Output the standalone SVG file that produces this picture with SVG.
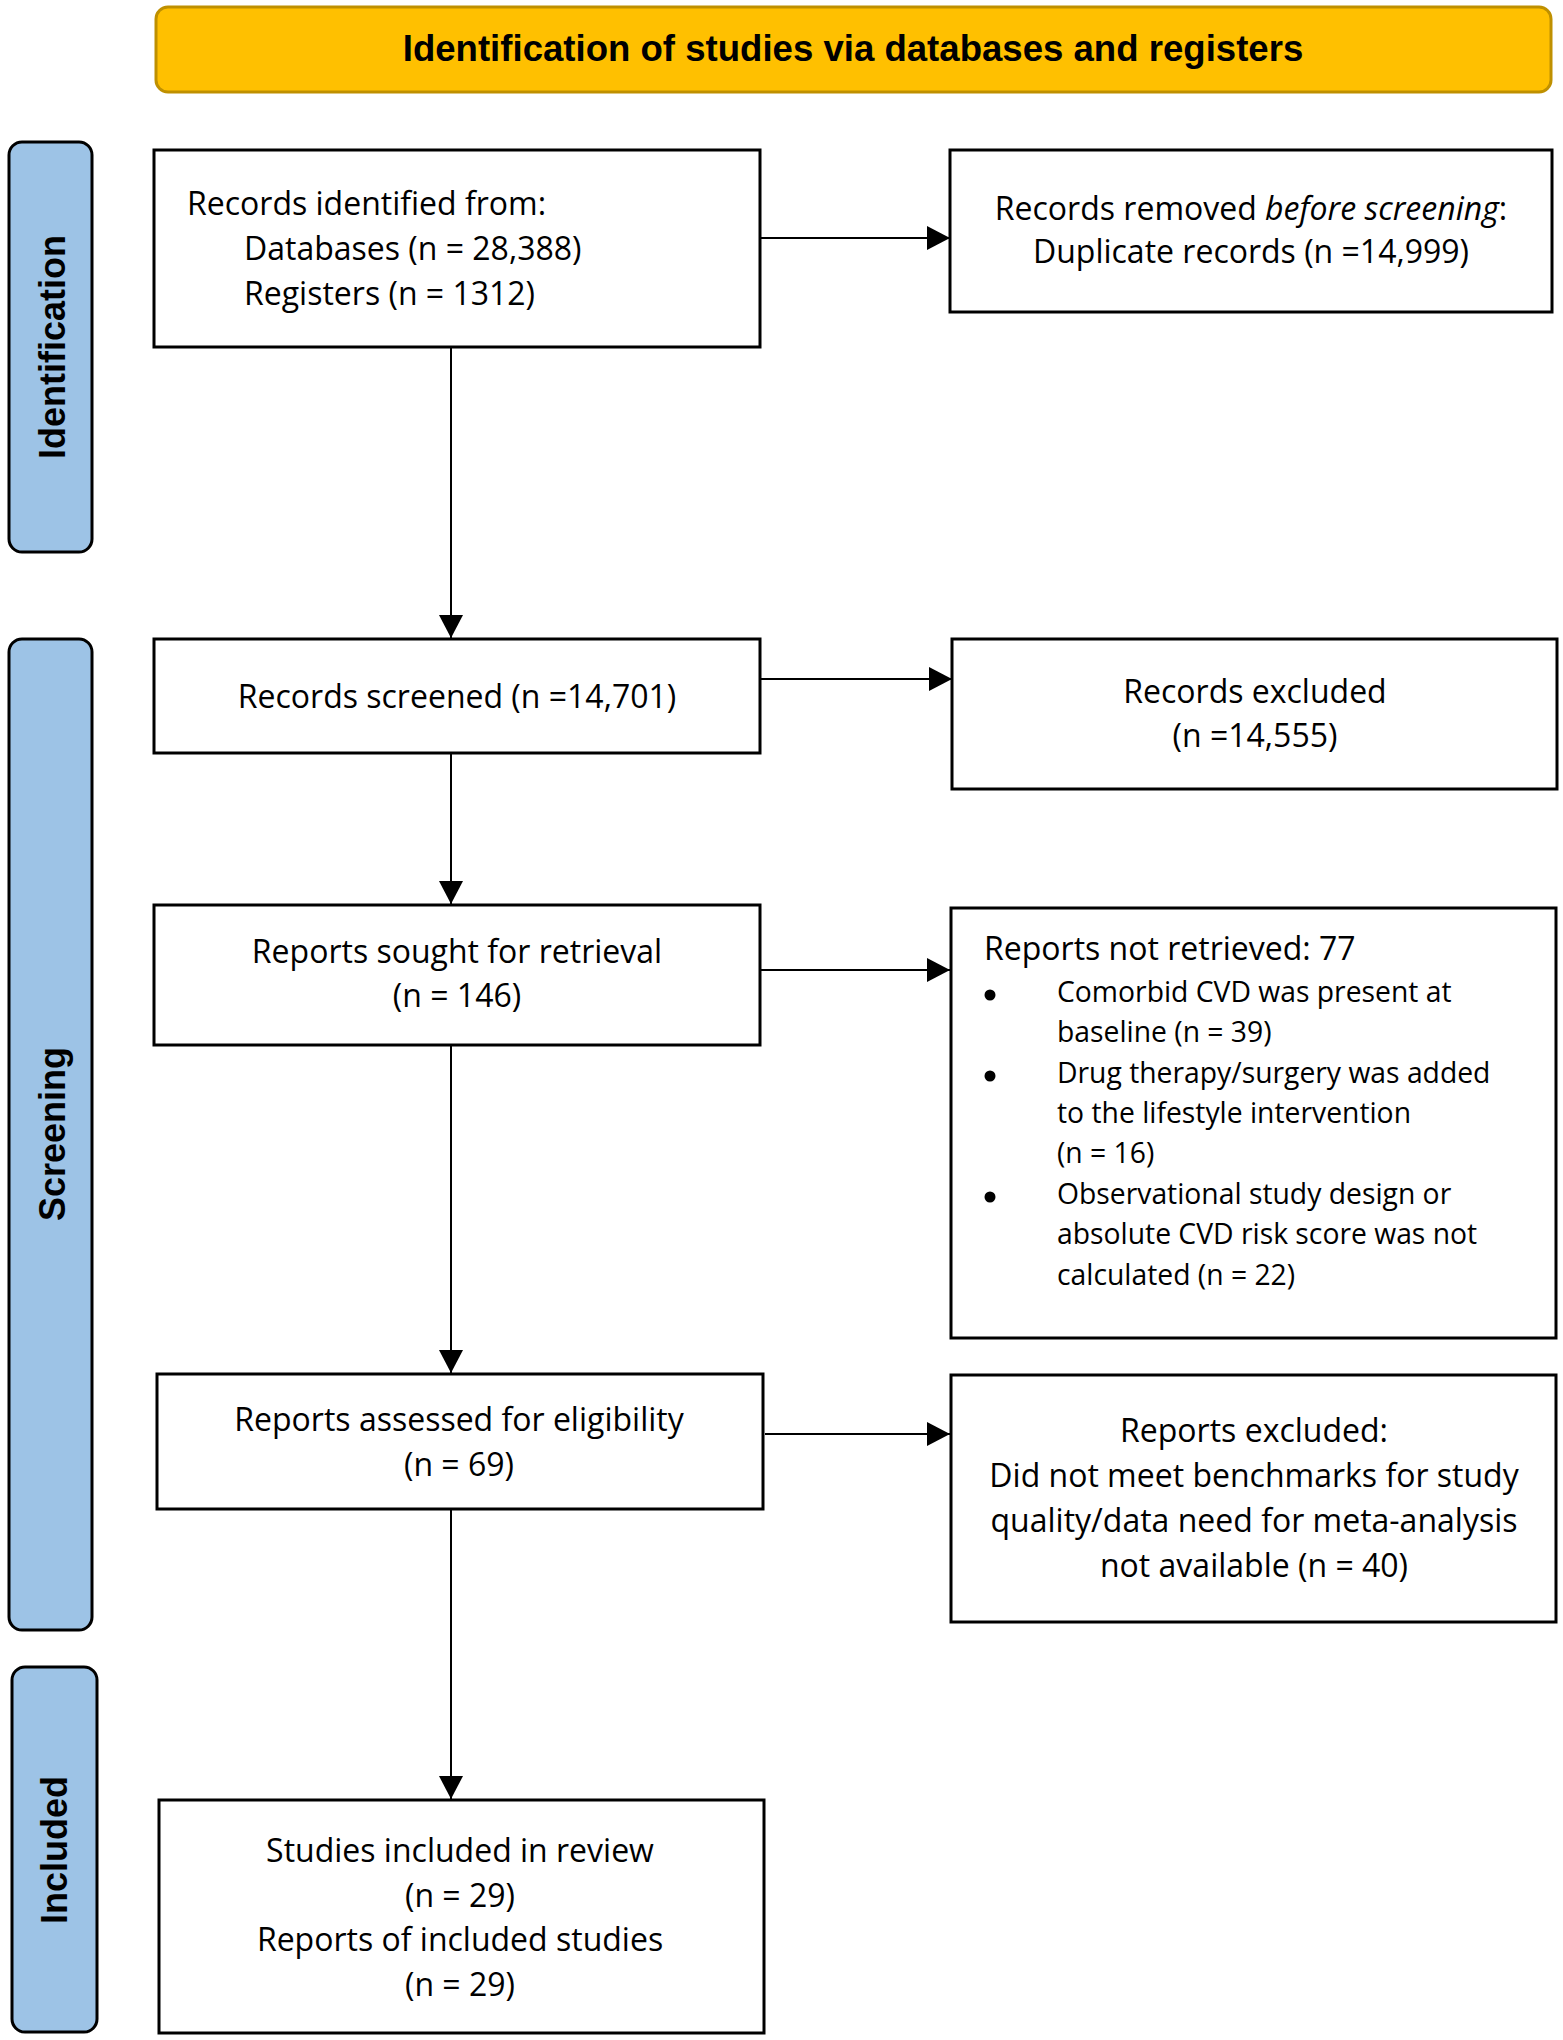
<svg xmlns="http://www.w3.org/2000/svg" width="1563" height="2040" viewBox="0 0 1563 2040">
<defs>
<style>
.box{fill:#fff;stroke:#000;stroke-width:3}
.side{fill:#9DC3E6;stroke:#000;stroke-width:3}
.t{font-family:"Open Sans","Liberation Sans",sans-serif;font-size:32px;fill:#000}
.tc{text-anchor:middle}
.s{font-family:"Open Sans","Liberation Sans",sans-serif;font-size:28.3px;fill:#000}
.lab{font-family:"Liberation Sans",Arial,sans-serif;font-weight:bold;font-size:36px;fill:#000;text-anchor:middle}
.hdr{font-family:"Liberation Sans",Arial,sans-serif;font-weight:bold;font-size:36.6px;fill:#000;text-anchor:middle}
.conn{stroke:#000;stroke-width:2;fill:none;marker-end:url(#ah)}
</style>
<marker id="ah" markerUnits="userSpaceOnUse" markerWidth="24" markerHeight="24" refX="23" refY="12" orient="auto">
<path d="M0,0 L23,12 L0,24 Z" fill="#000"/>
</marker>
</defs>
<rect width="1563" height="2040" fill="#fff"/>

<g id="header">
<rect x="156" y="7" width="1395" height="85" rx="12" fill="#FFC000" stroke="#BF9000" stroke-width="3"/>
<text class="hdr" x="853" y="61">Identification of studies via databases and registers</text>
</g>

<g id="phase-identification">
<rect class="side" x="9" y="142" width="83" height="410" rx="13"/>
<text class="lab" transform="translate(65,347) rotate(-90)">Identification</text>
</g>
<g id="phase-screening">
<rect class="side" x="9" y="639" width="83" height="991" rx="13"/>
<text class="lab" transform="translate(65,1134) rotate(-90)">Screening</text>
</g>
<g id="phase-included">
<rect class="side" x="12" y="1667" width="85" height="365" rx="13"/>
<text class="lab" transform="translate(67,1850) rotate(-90)">Included</text>
</g>

<g id="connectors">
<line class="conn" x1="761" y1="238" x2="950" y2="238"/>
<line class="conn" x1="451" y1="348" x2="451" y2="638"/>
<line class="conn" x1="761" y1="679" x2="952" y2="679"/>
<line class="conn" x1="451" y1="754" x2="451" y2="904"/>
<line class="conn" x1="761" y1="970" x2="950" y2="970"/>
<line class="conn" x1="451" y1="1046" x2="451" y2="1373"/>
<line class="conn" x1="765" y1="1434" x2="950" y2="1434"/>
<line class="conn" x1="451" y1="1510" x2="451" y2="1799"/>
</g>

<g id="records-identified">
<rect class="box" x="154" y="150" width="606" height="197"/>
<text class="t" x="187" y="215">Records identified from:</text>
<text class="t" x="244" y="260">Databases (n = 28,388)</text>
<text class="t" x="244" y="305">Registers (n = 1312)</text>
</g>

<g id="records-removed">
<rect class="box" x="950" y="150" width="602" height="162"/>
<text class="t tc" x="1251" y="220">Records removed <tspan font-style="italic">before screening</tspan>:</text>
<text class="t tc" x="1251" y="263">Duplicate records (n =14,999)</text>
</g>

<g id="records-screened">
<rect class="box" x="154" y="639" width="606" height="114"/>
<text class="t tc" x="457" y="708">Records screened (n =14,701)</text>
</g>

<g id="records-excluded">
<rect class="box" x="952" y="639" width="605" height="150"/>
<text class="t tc" x="1255" y="703">Records excluded</text>
<text class="t tc" x="1255" y="747">(n =14,555)</text>
</g>

<g id="reports-sought">
<rect class="box" x="154" y="905" width="606" height="140"/>
<text class="t tc" x="457" y="963">Reports sought for retrieval</text>
<text class="t tc" x="457" y="1007">(n = 146)</text>
</g>

<g id="reports-not-retrieved">
<rect class="box" x="951" y="908" width="605" height="430"/>
<text class="t" x="984" y="960">Reports not retrieved: 77</text>
<circle cx="990" cy="995" r="5.5"/>
<text class="s" x="1057" y="1002">Comorbid CVD was present at</text>
<text class="s" x="1057" y="1042">baseline (n = 39)</text>
<circle cx="990" cy="1076" r="5.5"/>
<text class="s" x="1057" y="1083">Drug therapy/surgery was added</text>
<text class="s" x="1057" y="1123">to the lifestyle intervention</text>
<text class="s" x="1057" y="1163">(n = 16)</text>
<circle cx="990" cy="1197" r="5.5"/>
<text class="s" x="1057" y="1204">Observational study design or</text>
<text class="s" x="1057" y="1244">absolute CVD risk score was not</text>
<text class="s" x="1057" y="1285">calculated (n = 22)</text>
</g>

<g id="reports-assessed">
<rect class="box" x="157" y="1374" width="606" height="135"/>
<text class="t tc" x="459" y="1431">Reports assessed for eligibility</text>
<text class="t tc" x="459" y="1476">(n = 69)</text>
</g>

<g id="reports-excluded">
<rect class="box" x="951" y="1375" width="605" height="247"/>
<text class="t tc" x="1254" y="1442">Reports excluded:</text>
<text class="t tc" x="1254" y="1487">Did not meet benchmarks for study</text>
<text class="t tc" x="1254" y="1532">quality/data need for meta-analysis</text>
<text class="t tc" x="1254" y="1577">not available (n = 40)</text>
</g>

<g id="studies-included">
<rect class="box" x="159" y="1800" width="605" height="233"/>
<text class="t tc" x="460" y="1862">Studies included in review</text>
<text class="t tc" x="460" y="1907">(n = 29)</text>
<text class="t tc" x="460" y="1951">Reports of included studies</text>
<text class="t tc" x="460" y="1996">(n = 29)</text>
</g>
</svg>
